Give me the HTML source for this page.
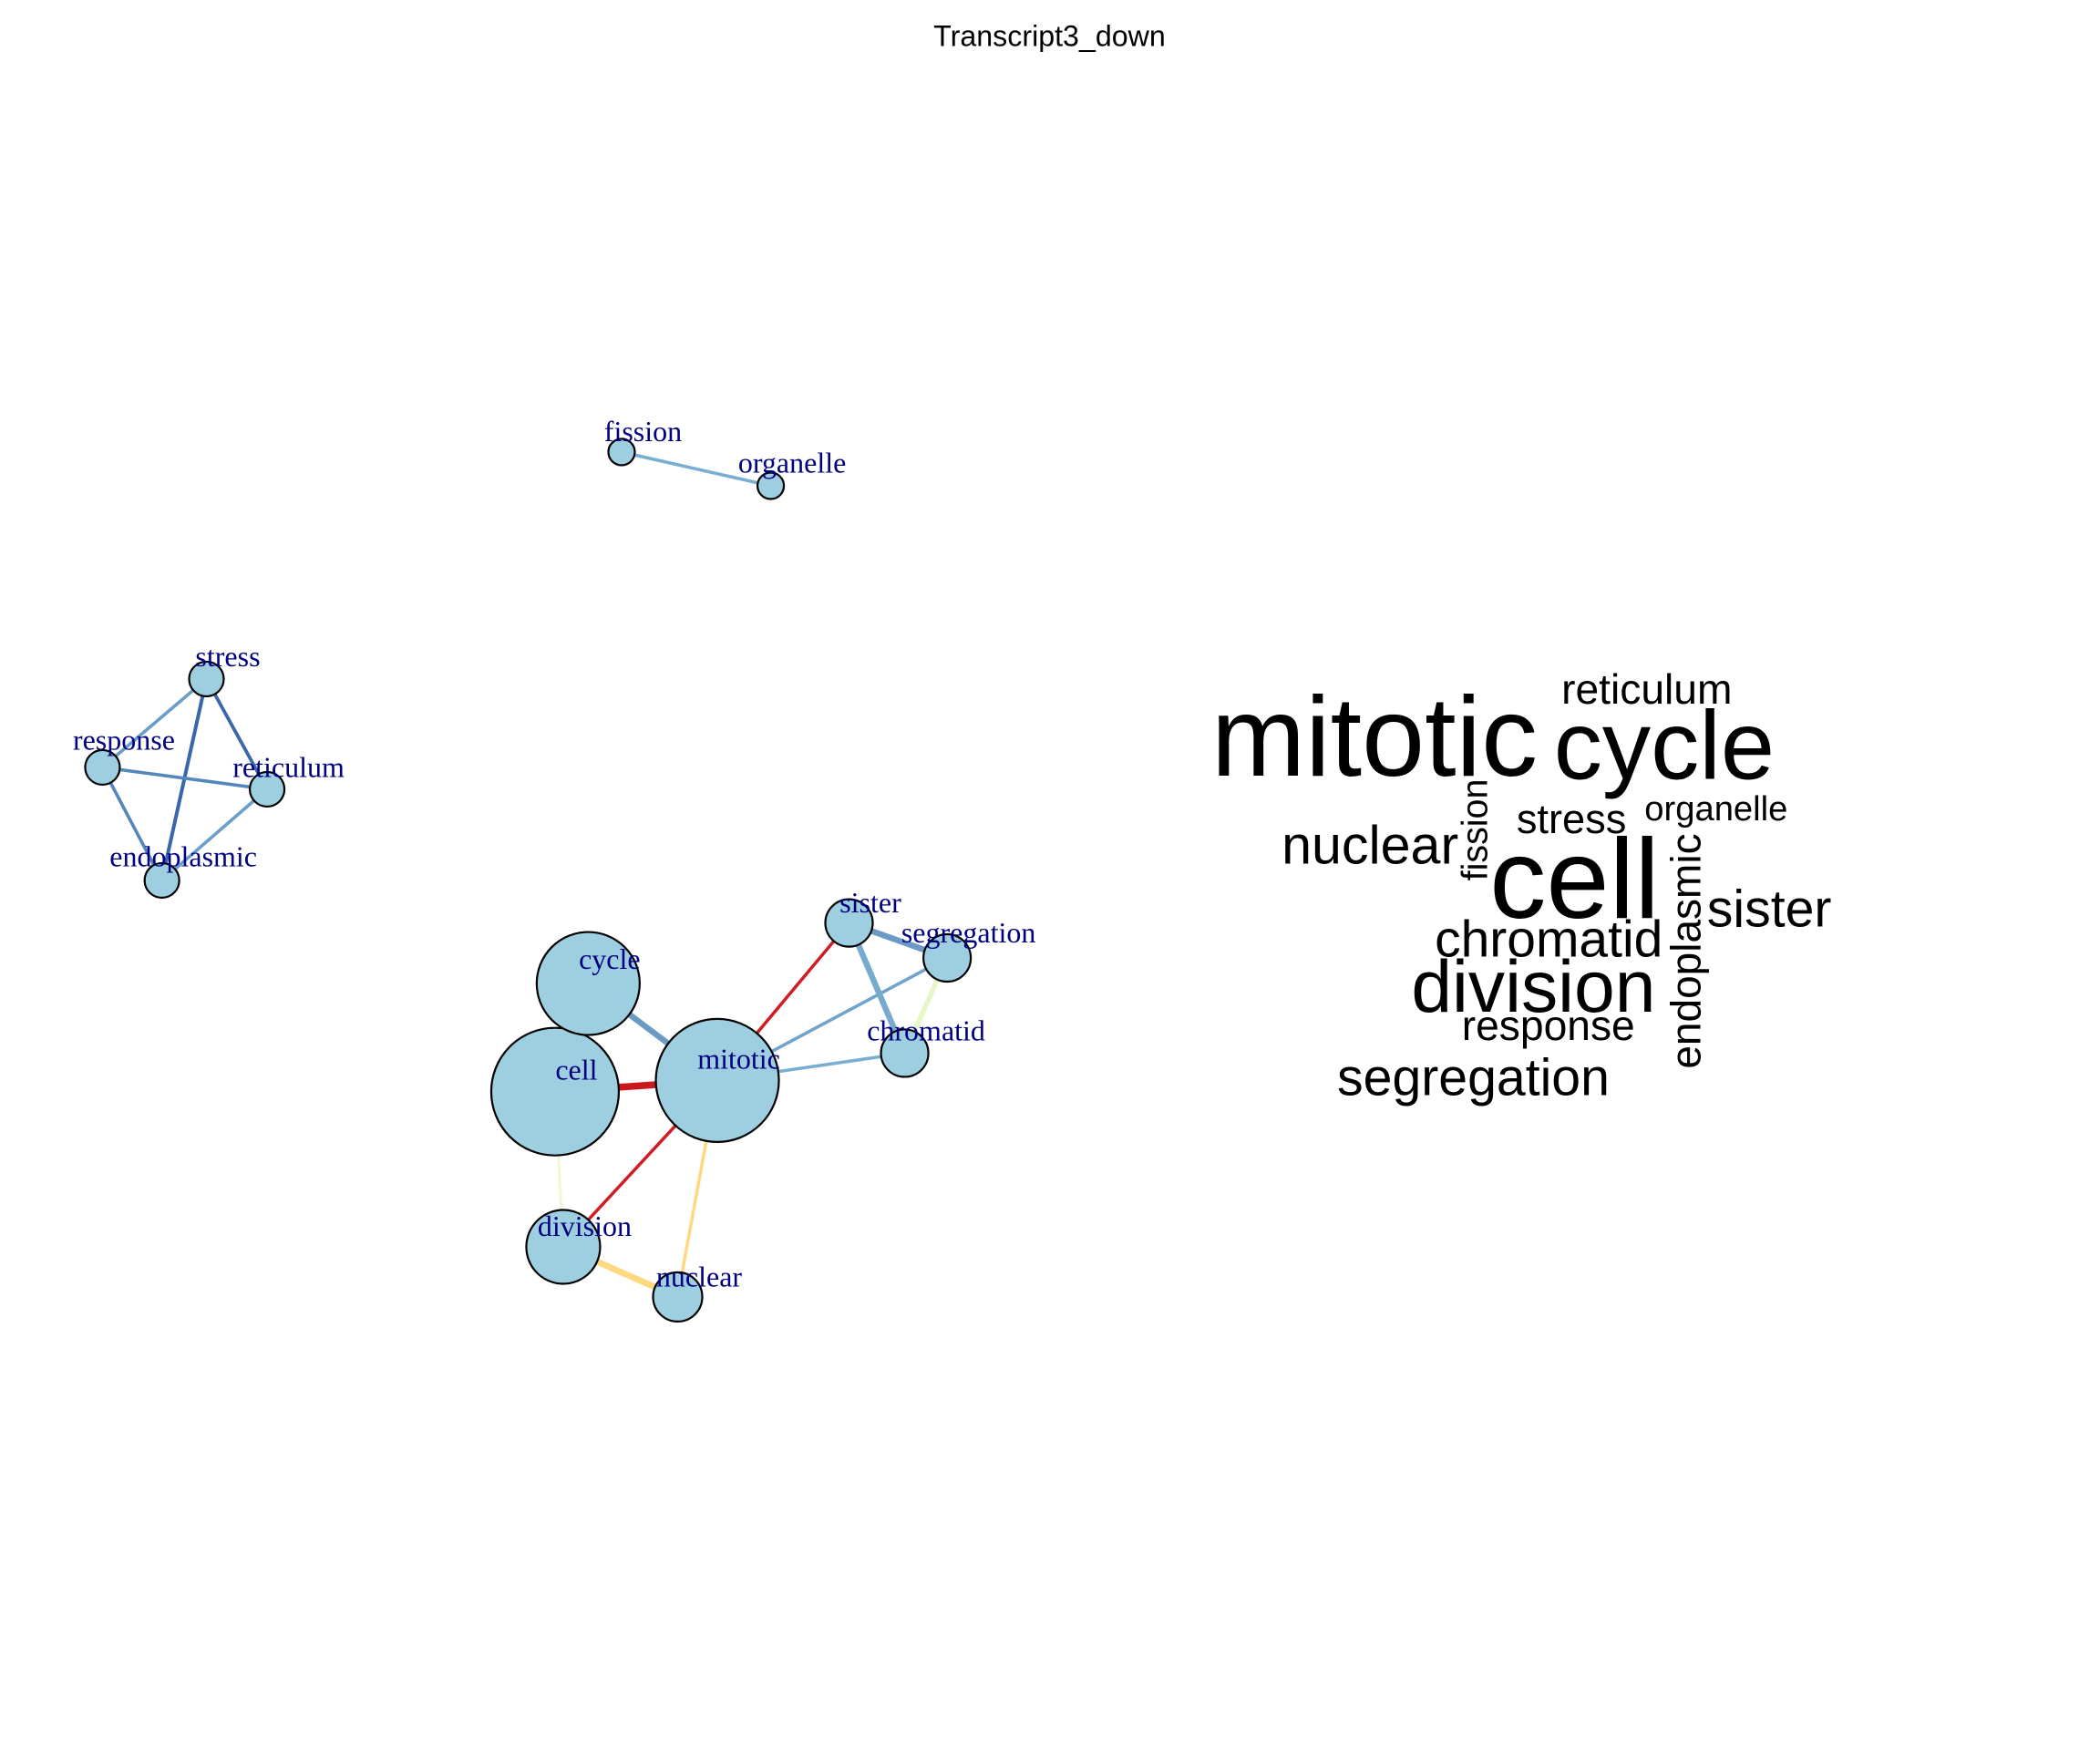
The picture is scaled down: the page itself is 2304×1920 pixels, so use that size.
<!DOCTYPE html>
<html lang="en">
<head>
<meta charset="utf-8">
<title>Transcript3_down</title>
<style>
html,body{margin:0;padding:0;background:#fff;}
svg{display:block;}
text{font-family:"Liberation Sans",sans-serif;}
.lbl{font-family:"Liberation Serif",serif;fill:#000080;font-size:32px;text-anchor:middle;}
.wrd{font-family:"Liberation Sans",sans-serif;fill:#000;text-anchor:middle;}
</style>
</head>
<body>
<svg id="chart" xmlns="http://www.w3.org/2000/svg" width="2304" height="1920" viewBox="0 0 2304 1920">
<rect x="0" y="0" width="2304" height="1920" fill="#ffffff"/>
<text x="1151.5" y="50.5" font-size="32.2" text-anchor="middle" fill="#000">Transcript3_down</text>
<g id="edges"></g>
<g id="nodes"></g>
<g id="labels"></g>
<g id="cloud"></g>
</svg>
<script>
// Network nodes: layout coordinates are in percent of the plot area
const nodeNames = ["cell","mitotic","cycle","division","nuclear","sister","segregation","chromatid","stress","response","reticulum","endoplasmic","fission","organelle"];
const nodeLayoutX = [26.43,34.16,28.01,26.82,32.27,40.43,45.10,43.08,9.83,4.88,12.72,7.71,29.60,36.70];
const nodeLayoutY = [62.38,61.74,56.20,71.25,74.11,52.74,54.74,60.18,38.80,43.85,45.10,50.31,25.83,27.76];
const nodeSize = [70,67.5,56.5,40.5,27,26,26,26,19,19,19,19,14.5,14.5];
const labelLift = [13,13,16,12,11.5,11.5,17,14,14,19.5,13.5,15.5,12,14.5];

// Network edges
const edgeFrom = ["cell","cycle","mitotic","mitotic","mitotic","mitotic","sister","sister","segregation","cell","division","stress","stress","stress","response","response","reticulum","fission","mitotic"];
const edgeTo = ["mitotic","mitotic","division","sister","segregation","chromatid","segregation","chromatid","chromatid","division","nuclear","response","endoplasmic","reticulum","reticulum","endoplasmic","endoplasmic","organelle","nuclear"];
const edgeWeight = [7.5,6.5,3.5,3.5,3.5,3.5,6.5,6.5,5.5,3,7,3.6,4,3.8,3.6,3.6,3.6,3.6,3.5];
const edgeTone = ["#cb181d","#6b9ac4","#cf1e23","#cf1e23","#70a3cb","#78aed1","#6b9ac4","#78aad0","#e9f7c8","#eff8d3","#fed982","#6a9ec8","#3a66ad","#3c68aa","#5488bd","#5386ba","#6b9ec9","#78aed1","#fed982"];

// Word cloud: frequency drives font size, layout in percent of the plot area
const words = ["mitotic","cycle","cell","reticulum","nuclear","stress","organelle","sister","chromatid","division","response","segregation","fission","endoplasmic"];
const wordFreq = [31,26.6,31.1,11.55,14.8,11.3,9.55,14.3,14.25,20.1,11.55,14.3,9.85,11.5];
const wordLayoutX = [65.45,79.25,74.98,78.42,65.24,74.83,81.72,84.25,73.75,73.02,73.73,70.16,70.82,80.97];
const wordLayoutY = [44.31,44.50,52.46,40.21,49.35,47.61,46.87,52.95,54.65,57.81,59.42,62.59,47.42,54.35];
const wordVertical = [0,0,0,0,0,0,0,0,0,0,0,0,1,1];

const NS = "http://www.w3.org/2000/svg";
const PLOT_W = 2304, PLOT_H = 1920;
function xAxis(u){ return u / 100 * PLOT_W; }
function yAxis(u){ return u / 100 * PLOT_H; }
function rAxis(v){ return v; }
function fontAxis(f){ return f * 4; }

const edgeLayer = document.getElementById("edges");
const nodeLayer = document.getElementById("nodes");
const labelLayer = document.getElementById("labels");
const cloudLayer = document.getElementById("cloud");

edgeFrom.forEach(function(from, i){
  const to = edgeTo[i];
  const a = nodeNames.indexOf(from), b = nodeNames.indexOf(to);
  const line = document.createElementNS(NS, "line");
  
  
  line.setAttribute("x1", xAxis(nodeLayoutX[a]));
  line.setAttribute("y1", yAxis(nodeLayoutY[a]));
  line.setAttribute("x2", xAxis(nodeLayoutX[b]));
  line.setAttribute("y2", yAxis(nodeLayoutY[b]));
  line.setAttribute("stroke", edgeTone[i]);
  line.setAttribute("stroke-width", edgeWeight[i]);
  edgeLayer.appendChild(line);
});

nodeNames.forEach(function(name, i){
  const c = document.createElementNS(NS, "circle");
  
  
  c.setAttribute("cx", xAxis(nodeLayoutX[i]));
  c.setAttribute("cy", yAxis(nodeLayoutY[i]));
  c.setAttribute("r", rAxis(nodeSize[i]));
  c.setAttribute("fill", "#9ecfe0");
  c.setAttribute("stroke", "#000");
  c.setAttribute("stroke-width", "2.2");
  nodeLayer.appendChild(c);

  const t = document.createElementNS(NS, "text");
  
  
  t.setAttribute("class", "lbl");
  t.setAttribute("x", xAxis(nodeLayoutX[i]) + 23.5);
  t.setAttribute("y", yAxis(nodeLayoutY[i]) - labelLift[i]);
  t.textContent = name;
  labelLayer.appendChild(t);
});

words.forEach(function(word, i){
  const t = document.createElementNS(NS, "text");
  
  
  t.setAttribute("class", "wrd");
  const x = xAxis(wordLayoutX[i]), y = yAxis(wordLayoutY[i]);
  t.setAttribute("x", x);
  t.setAttribute("y", y);
  t.setAttribute("font-size", fontAxis(wordFreq[i]));
  if (wordVertical[i]) {
    t.setAttribute("transform", "rotate(-90 " + x + " " + y + ")");
  }
  t.textContent = word;
  cloudLayer.appendChild(t);
});
</script>
</body>
</html>
